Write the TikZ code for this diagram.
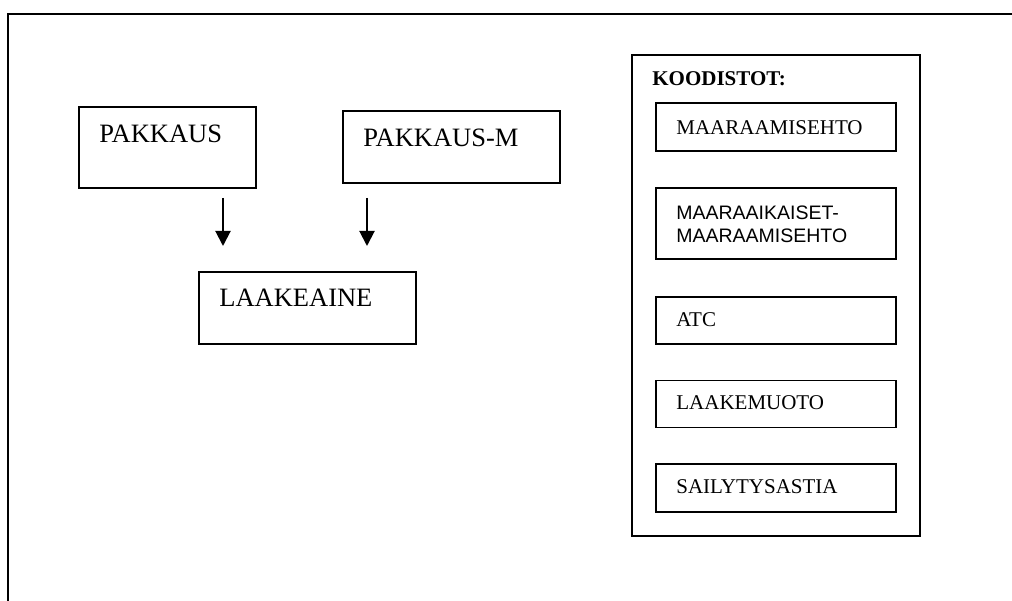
\documentclass[tikz,border=0pt]{standalone}
\usepackage{fontspec}
\setmainfont{Liberation Serif}
\newfontfamily\arialfont{Liberation Sans}
\usetikzlibrary{arrows.meta, positioning}

\begin{document}
\begin{tikzpicture}[
  x=1pt, y=-1pt,
  box/.style={draw, line width=1.7pt, inner sep=0pt},
  code/.style={box, minimum width=240pt, minimum height=48pt},
  big/.style={anchor=base west, inner sep=0pt, font=\fontsize{26.5}{30}\selectfont},
  small/.style={anchor=base west, inner sep=0pt, font=\fontsize{21}{24}\selectfont},
  sans/.style={anchor=base west, inner sep=0pt, font=\arialfont\fontsize{19.5}{23}\selectfont},
  arr/.style={line width=2pt, -{Triangle[length=15pt, width=15pt]}}
]
  \useasboundingbox (0,0) rectangle (1012,601);
  % outer frame (only top and left edge are in view)
  \draw[line width=2.5pt] (8,601) -- (8,14) -- (1012,14);

  % tables
  \node[box, minimum width=177pt, minimum height=81pt] (pakkaus) at (167.5,147.5) {};
  \node[box, minimum width=217pt, minimum height=72pt] (pakkausm) at (451.5,147) {};
  \node[box, minimum width=217pt, minimum height=72pt] (laakeaine) at (307.5,308) {};
  \node[big] (pakkaustxt) at ([shift={(21,36)}]pakkaus.north west) {PAKKAUS};
  \node[big] (pakkausmtxt) at ([shift={(21,36)}]pakkausm.north west) {PAKKAUS-M};
  \node[big] (laakeainetxt) at ([shift={(21,35)}]laakeaine.north west) {LAAKEAINE};

  \coordinate (p1) at (223,198);
  \coordinate (l1) at (223,246);
  \coordinate (p2) at (367,198);
  \coordinate (l2) at (367,246);
  \draw[arr] (p1) -- (l1);
  \draw[arr] (p2) -- (l2);

  % code sets
  \node[box, minimum width=288pt, minimum height=481pt] (koodistot) at (776,295.5) {};
  \node[small, font=\bfseries\fontsize{21}{24}\selectfont] (koodistottxt) at ([shift={(21,31)}]koodistot.north west) {KOODISTOT:};
  \node[code] (maar) at (776,127) {};
  \node[code, minimum height=71pt] (maarik) at (776,223.5) {};
  \node[code, minimum height=47pt] (atc) at (776,320.5) {};
  \node[code, minimum height=47pt] (muoto) at (776,404) {};
  \node[code] (astia) at (776,488) {};
  \node[small] (maartxt) at ([shift={(21,32)}]maar.north west) {MAARAAMISEHTO};
  \node[sans] (maariktxt) at ([shift={(21,32)}]maarik.north west) {MAARAAIKAISET-};
  \node[sans] (maariktxtb) at ([shift={(21,55)}]maarik.north west) {MAARAAMISEHTO};
  \node[small] (atctxt) at ([shift={(21,30)}]atc.north west) {ATC};
  \node[small] (muototxt) at ([shift={(21,30)}]muoto.north west) {LAAKEMUOTO};
  \node[small] (astiatxt) at ([shift={(21,30)}]astia.north west) {SAILYTYSASTIA};
\end{tikzpicture}
\end{document}
